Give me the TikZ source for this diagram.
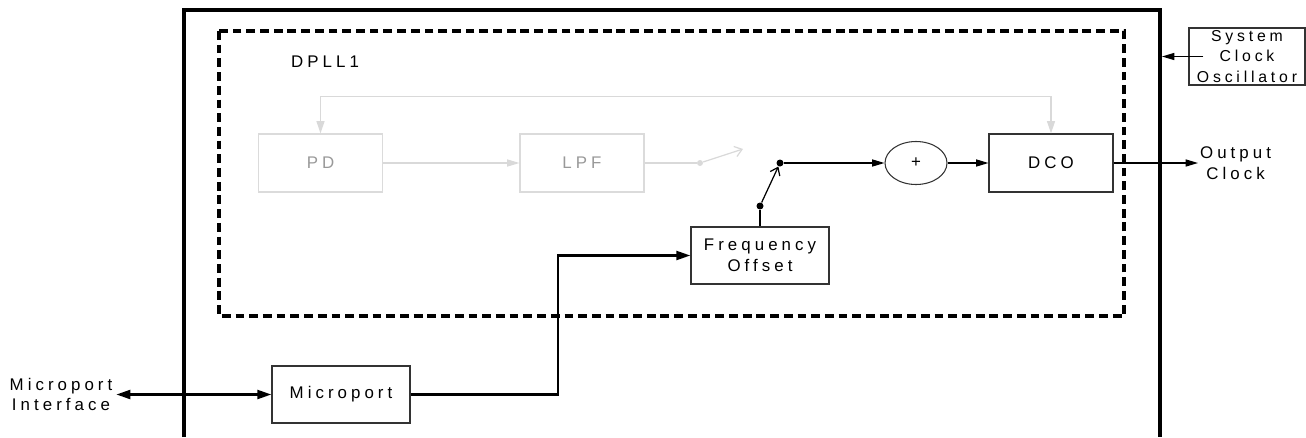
\documentclass[tikz,border=0pt]{standalone}
\usepackage{fontspec}
\setmainfont[LetterSpace=24]{Liberation Sans}
\usepackage{tikz}
\usetikzlibrary{positioning, arrows.meta, shapes.geometric}

\begin{document}
\begin{tikzpicture}[font=\fontsize{9.6}{11.9}\selectfont,
  blk/.style={draw=black!80, line width=0.6pt, minimum width=2.48cm, minimum height=1.16cm, inner sep=0pt, align=center},
  gblk/.style={blk, draw=black!14, text=black!40},
  dot/.style={circle, fill, inner sep=0pt, minimum size=0.14cm},
  ln/.style={line width=0.7pt},
  gln/.style={line width=0.7pt, draw=black!15},
  tip/.style={-{Triangle[length=7pt,width=4pt]}},
  barb/.style={-{Straight Barb[length=4pt,width=6pt]}},
  frame/.style={line width=2pt},
  dashbox/.style={line width=1.9pt, dash pattern=on 5pt off 2.8pt}]
\useasboundingbox (0,0) rectangle (26.12,-8.74);

% frames
\draw[frame] (3.68,-8.74) |- (23.2,-0.2) -- (23.2,-8.74);
\draw[dashbox] (4.38,-0.62) rectangle (22.48,-6.32);
\node[anchor=west] (title) at (5.7,-1.24) {DPLL1};

% blocks
\node[gblk] (PD) at (6.41,-3.26) {PD};
\node[gblk] (LPF) at (11.64,-3.26) {LPF};
\node[dot, black!15, minimum size=0.12cm] (gsw) at (14.0,-3.26) {};
\coordinate (gswend) at (14.86,-2.98);
\node[blk, minimum width=2.76cm, minimum height=1.14cm] (FO) at (15.2,-5.11) {Frequency\\Offset};
\node[dot] (sw1) at (15.2,-4.12) {};
\node[dot] (sw2) at (15.6,-3.26) {};
\node[draw=black!80, line width=0.6pt, ellipse, minimum width=1.24cm, minimum height=0.86cm, inner sep=0pt] (sum) at (18.32,-3.26) {+};
\node[blk] (DCO) at (21.02,-3.26) {DCO};
\node[anchor=west, inner sep=1pt, align=center] (out) at (23.96,-3.26) {Output\\Clock};
\node[blk, minimum width=2.32cm, minimum height=1.14cm, font=\fontsize{9}{11.9}\selectfont] (osc) at (24.94,-1.13) {System\\Clock\\Oscillator};
\coordinate (frameR) at (23.24,-1.13);
\node[blk, minimum width=2.76cm, minimum height=1.14cm] (MP) at (6.82,-7.89) {Microport};
\node[align=center, inner sep=2pt] (MPI) at (1.22,-7.89) {Microport\\Interface};
\coordinate (bend) at (11.16,-7.89);

% gray loop
\draw[gln, {Triangle[length=7pt,width=4.5pt]}-{Triangle[length=7pt,width=4.5pt]}, black!15] (PD.north) -- ++(0,0.74) -| (DCO.north);
\draw[gln, tip, black!15] (PD) -- (LPF);
\draw[gln] (LPF) -- (gsw);
\draw[gln, barb, black!15] (gsw) -- (gswend);

% signal path
\draw[ln] (FO) -- (sw1);
\draw[ln, barb] (sw1) -- (sw2);
\draw[ln, tip] (sw2) -- (sum);
\draw[ln, tip] (sum) -- (DCO);
\draw[ln, tip] (DCO) -- (out.west);
\draw[ln, tip] ([xshift=0.3cm]osc.west) -- (frameR);
\draw[line width=1.5pt, {Triangle[length=8pt,width=5pt]}-{Triangle[length=8pt,width=5pt]}] (MPI.east) -- (MP.west);
\draw[line width=1.5pt, -{Triangle[length=8pt,width=5pt]}] (MP.east) -- (bend) |- (FO.west);
\end{tikzpicture}
\end{document}
